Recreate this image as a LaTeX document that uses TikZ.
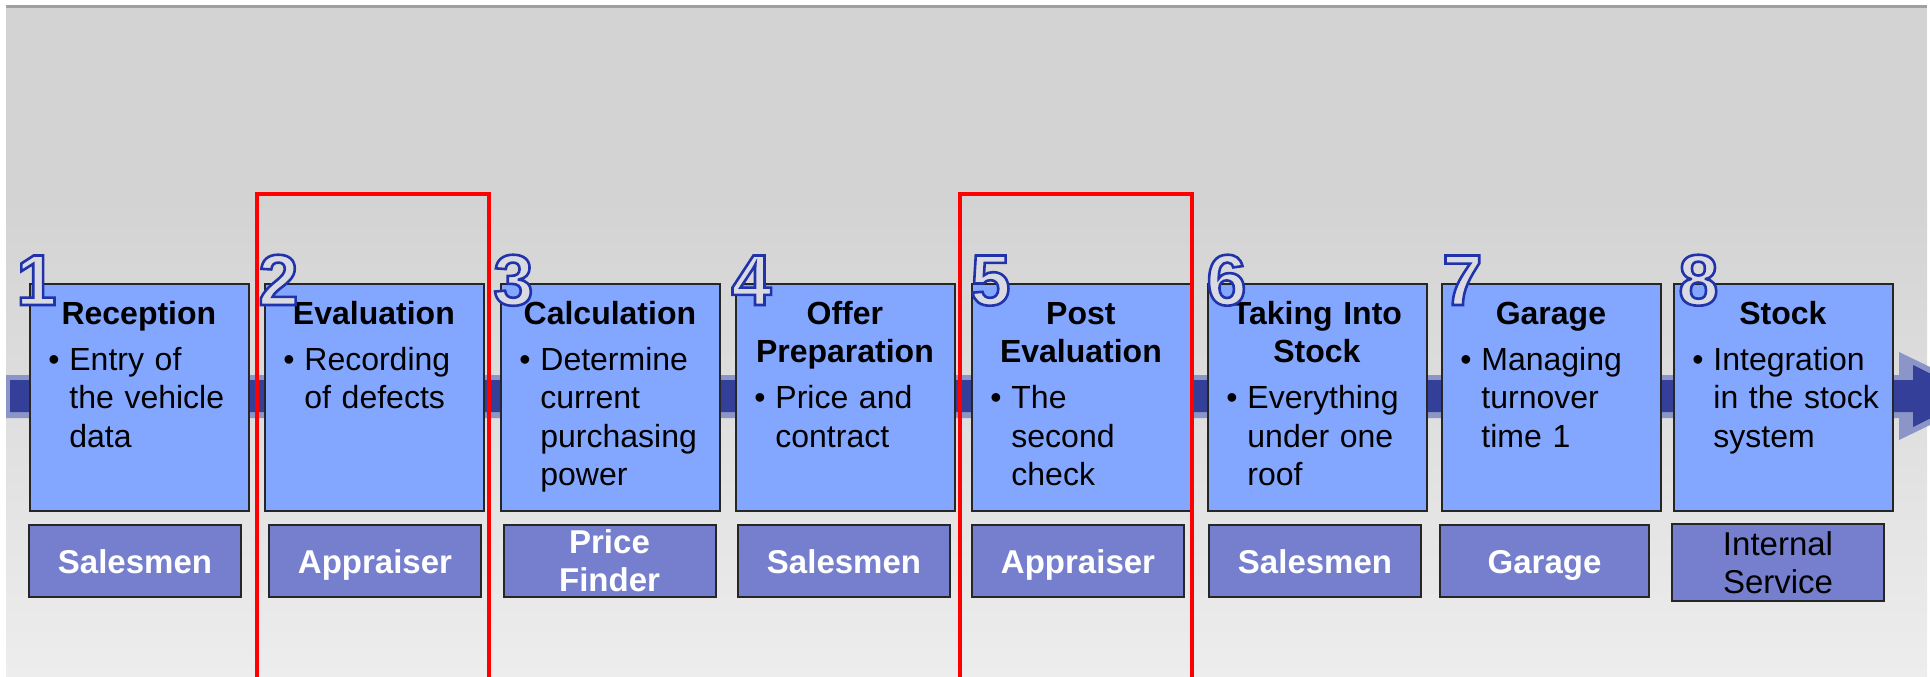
\documentclass[tikz,border=0pt]{standalone}
\usepackage{fontspec}
\setmainfont{Liberation Sans}
\definecolor{topblue}{RGB}{131,166,255}
\definecolor{botblue}{RGB}{117,127,205}
\definecolor{arrowdark}{RGB}{52,63,154}
\definecolor{arrowlight}{RGB}{139,149,199}
\definecolor{bgtop}{RGB}{211,211,211}
\definecolor{bgbot}{RGB}{237,237,237}
\definecolor{topline}{RGB}{160,160,160}
\definecolor{digfill}{RGB}{218,218,226}
\newcommand\hollowdigit[1]{\special{pdf:literal direct 0.13 0.2 0.67 RG 1.3 w 2 Tr}#1\special{pdf:literal direct 0 Tr}}
\newcommand\stepcontent[2]{{\bfseries\centering #1\par}\vspace{3.75pt}{\leftskip=20pt\noindent\llap{\makebox[10.5pt][l]{\textbullet}}#2\par}}
\newcommand\twolines[2]{\begin{tabular}[t]{@{}c@{}}#1\\#2\end{tabular}}
\tikzset{
  topbox/.style={draw=black!85, line width=1pt, fill=topblue, minimum width=109.5pt, minimum height=113.5pt, anchor=north west, inner sep=0pt},
  content/.style={anchor=base west, inner sep=0pt, text width=109.5pt, font=\fontsize{16}{19.25}\selectfont},
  botbox/.style={draw=black!85, line width=1pt, fill=botblue, minimum width=106pt, minimum height=36pt, inner sep=0pt},
  botlabel/.style={anchor=base, inner sep=0pt, text=white, font=\bfseries\fontsize{16.5}{19}\selectfont},
  botplain/.style={botlabel, text=black, font=\fontsize{16.5}{19}\selectfont},
  digit/.style={anchor=base west, inner sep=0pt, text=digfill, font=\bfseries\fontsize{36}{40}\selectfont},
  redbox/.style={draw=red, line width=1.75pt}
}
\begin{document}
\begin{tikzpicture}[x=0.5pt,y=-0.5pt]
\useasboundingbox (0,0) rectangle (1930,676);
\begin{scope}
\clip (0,0) rectangle (1930,676);
% background
\fill[bgtop] (6,8) rectangle (1927,200);
\shade[top color=bgtop, bottom color=bgbot] (6,199) rectangle (1927,676);
\fill[topline] (6,5) rectangle (1927,8);
% process arrow
\fill[arrowlight] (6,375) -- (1899,375) -- (1899,352) -- (1990,396) -- (1899,440) -- (1899,418) -- (6,418) -- cycle;
\fill[arrowdark] (10,380) -- (1913,380) -- (1913,365) -- (1975,396) -- (1913,427) -- (1913,412) -- (10,412) -- cycle;
% top boxes
\node[topbox] (t1) at (29,283) {};
\node[topbox] (t2) at (264,283) {};
\node[topbox] (t3) at (500,283) {};
\node[topbox] (t4) at (735,283) {};
\node[topbox] (t5) at (971,283) {};
\node[topbox] (t6) at (1207,283) {};
\node[topbox] (t7) at (1441,283) {};
\node[topbox] (t8) at (1673,283) {};
% contents
\node[content] (c1) at (29,324) {\stepcontent{Reception}{Entry of\\the vehicle\\data}};
\node[content] (c2) at (264,324) {\stepcontent{Evaluation}{Recording\\of defects}};
\node[content] (c3) at (500,324) {\stepcontent{Calculation}{Determine\\current\\purchasing\\power}};
\node[content] (c4) at (735,324) {\stepcontent{Offer\\Preparation}{Price and\\contract}};
\node[content] (c5) at (971,324) {\stepcontent{Post\\Evaluation}{The\\second\\check}};
\node[content] (c6) at (1207,324) {\stepcontent{Taking Into\\Stock}{Everything\\under one\\roof}};
\node[content] (c7) at (1441,324) {\stepcontent{Garage}{Managing\\turnover\\time 1}};
\node[content] (c8) at (1673,324) {\stepcontent{Stock}{Integration\\in the stock\\system}};
% bottom boxes
\node[botbox] (b1) at (135,561) {};
\node[botbox] (b2) at (375,561) {};
\node[botbox] (b3) at (609.5,561) {};
\node[botbox] (b4) at (844,561) {};
\node[botbox] (b5) at (1078,561) {};
\node[botbox] (b6) at (1315,561) {};
\node[botbox, minimum width=104.5pt] (b7) at (1544.5,561) {};
\node[botbox, minimum height=38.5pt] (b8) at (1778,562.5) {};
\node[botlabel] (l1) at (135,573) {Salesmen};
\node[botlabel] (l2) at (375,573) {Appraiser};
\node[botlabel] (l3) at (609.5,553) {\twolines{Price}{Finder}};
\node[botlabel] (l4) at (844,573) {Salesmen};
\node[botlabel] (l5) at (1078,573) {Appraiser};
\node[botlabel] (l6) at (1315,573) {Salesmen};
\node[botlabel] (l7) at (1544.5,573) {Garage};
\node[botplain] (l8) at (1778,555) {\twolines{Internal}{Service}};
% step numbers
\node[digit] (n1) at (16,305) {\hollowdigit{1}};
\node[digit] (n2) at (258,305) {\hollowdigit{2}};
\node[digit] (n3) at (493,305) {\hollowdigit{3}};
\node[digit] (n4) at (731,305) {\hollowdigit{4}};
\node[digit] (n5) at (970,305) {\hollowdigit{5}};
\node[digit] (n6) at (1206,305) {\hollowdigit{6}};
\node[digit] (n7) at (1442,305) {\hollowdigit{7}};
\node[digit] (n8) at (1678,305) {\hollowdigit{8}};
% highlight frames
\draw[redbox] (257,194) rectangle (489,690);
\draw[redbox] (960,194) rectangle (1192,690);
\end{scope}
\end{tikzpicture}
\end{document}
